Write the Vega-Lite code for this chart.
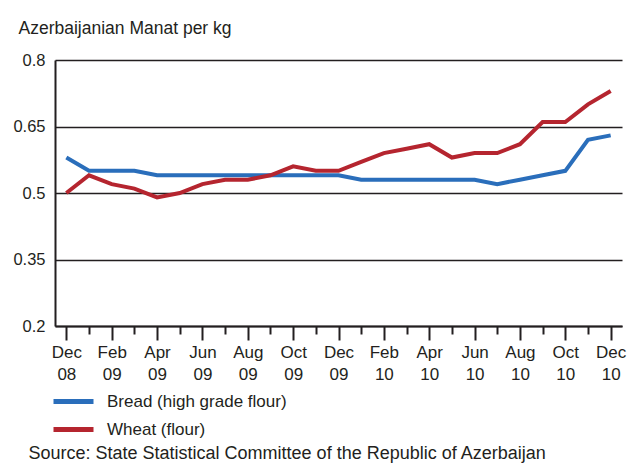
{
  "$schema": "https://vega.github.io/schema/vega-lite/v6.json",
  "width": 567,
  "height": 266,
  "autosize": {"type": "none"},
  "padding": {"left": 55, "top": 60, "right": 5, "bottom": 138},
  "background": "white",
  "data": {"values": [
    {"month":"Dec 08","series":"Bread (high grade flour)","value":0.58},
    {"month":"Jan 09","series":"Bread (high grade flour)","value":0.55},
    {"month":"Feb 09","series":"Bread (high grade flour)","value":0.55},
    {"month":"Mar 09","series":"Bread (high grade flour)","value":0.55},
    {"month":"Apr 09","series":"Bread (high grade flour)","value":0.54},
    {"month":"May 09","series":"Bread (high grade flour)","value":0.54},
    {"month":"Jun 09","series":"Bread (high grade flour)","value":0.54},
    {"month":"Jul 09","series":"Bread (high grade flour)","value":0.54},
    {"month":"Aug 09","series":"Bread (high grade flour)","value":0.54},
    {"month":"Sep 09","series":"Bread (high grade flour)","value":0.54},
    {"month":"Oct 09","series":"Bread (high grade flour)","value":0.54},
    {"month":"Nov 09","series":"Bread (high grade flour)","value":0.54},
    {"month":"Dec 09","series":"Bread (high grade flour)","value":0.54},
    {"month":"Jan 10","series":"Bread (high grade flour)","value":0.53},
    {"month":"Feb 10","series":"Bread (high grade flour)","value":0.53},
    {"month":"Mar 10","series":"Bread (high grade flour)","value":0.53},
    {"month":"Apr 10","series":"Bread (high grade flour)","value":0.53},
    {"month":"May 10","series":"Bread (high grade flour)","value":0.53},
    {"month":"Jun 10","series":"Bread (high grade flour)","value":0.53},
    {"month":"Jul 10","series":"Bread (high grade flour)","value":0.52},
    {"month":"Aug 10","series":"Bread (high grade flour)","value":0.53},
    {"month":"Sep 10","series":"Bread (high grade flour)","value":0.54},
    {"month":"Oct 10","series":"Bread (high grade flour)","value":0.55},
    {"month":"Nov 10","series":"Bread (high grade flour)","value":0.62},
    {"month":"Dec 10","series":"Bread (high grade flour)","value":0.63},
    {"month":"Dec 08","series":"Wheat (flour)","value":0.50},
    {"month":"Jan 09","series":"Wheat (flour)","value":0.54},
    {"month":"Feb 09","series":"Wheat (flour)","value":0.52},
    {"month":"Mar 09","series":"Wheat (flour)","value":0.51},
    {"month":"Apr 09","series":"Wheat (flour)","value":0.49},
    {"month":"May 09","series":"Wheat (flour)","value":0.50},
    {"month":"Jun 09","series":"Wheat (flour)","value":0.52},
    {"month":"Jul 09","series":"Wheat (flour)","value":0.53},
    {"month":"Aug 09","series":"Wheat (flour)","value":0.53},
    {"month":"Sep 09","series":"Wheat (flour)","value":0.54},
    {"month":"Oct 09","series":"Wheat (flour)","value":0.56},
    {"month":"Nov 09","series":"Wheat (flour)","value":0.55},
    {"month":"Dec 09","series":"Wheat (flour)","value":0.55},
    {"month":"Jan 10","series":"Wheat (flour)","value":0.57},
    {"month":"Feb 10","series":"Wheat (flour)","value":0.59},
    {"month":"Mar 10","series":"Wheat (flour)","value":0.60},
    {"month":"Apr 10","series":"Wheat (flour)","value":0.61},
    {"month":"May 10","series":"Wheat (flour)","value":0.58},
    {"month":"Jun 10","series":"Wheat (flour)","value":0.59},
    {"month":"Jul 10","series":"Wheat (flour)","value":0.59},
    {"month":"Aug 10","series":"Wheat (flour)","value":0.61},
    {"month":"Sep 10","series":"Wheat (flour)","value":0.66},
    {"month":"Oct 10","series":"Wheat (flour)","value":0.66},
    {"month":"Nov 10","series":"Wheat (flour)","value":0.70},
    {"month":"Dec 10","series":"Wheat (flour)","value":0.73}
  ]},
  "mark": {"type": "line", "strokeWidth": 4, "strokeJoin": "miter"},
  "encoding": {
    "x": {
      "field": "month",
      "type": "ordinal",
      "sort": null,
      "scale": {"type": "point", "padding": 0.5},
      "axis": {
        "title": "Source: State Statistical Committee of the Republic of Azerbaijan",
        "titleX": -27,
        "titleY": 132,
        "titleAlign": "left",
        "titleAnchor": "start",
        "titleBaseline": "alphabetic",
        "titleFontSize": 18,
        "titleFontWeight": "normal",
        "titleColor": "#231f20",
        "labelAngle": 0,
        "labelExpr": "indexof(['Dec','Feb','Apr','Jun','Aug','Oct'], slice(datum.value,0,3)) >= 0 ? split(datum.value, ' ') : ''",
        "labelLineHeight": 22.7,
        "labelPadding": 4,
        "labelBaseline": "top",
        "labelFontSize": 17,
        "labelColor": "#231f20",
        "domainColor": "#231f20",
        "domainWidth": 2,
        "tickColor": "#231f20",
        "tickWidth": 2,
        "tickSize": {"condition": {"test": "indexof(['Dec','Feb','Apr','Jun','Aug','Oct'], slice(datum.value,0,3)) >= 0", "value": 14}, "value": 8},
        "grid": false
      }
    },
    "y": {
      "field": "value",
      "type": "quantitative",
      "scale": {"domain": [0.2, 0.8], "nice": false, "zero": false},
      "axis": {
        "values": [0.2, 0.35, 0.5, 0.65, 0.8],
        "labelExpr": "format(datum.value, '.2~f')",
        "title": "Azerbaijanian Manat per kg",
        "titleAngle": 0,
        "titleAlign": "left",
        "titleBaseline": "alphabetic",
        "titleX": -37,
        "titleY": -27,
        "titleFontSize": 17.5,
        "titleFontWeight": "normal",
        "titleColor": "#231f20",
        "labelFontSize": 16.5,
        "labelColor": "#231f20",
        "labelPadding": 10,
        "ticks": false,
        "domainColor": "#231f20",
        "domainWidth": 2,
        "grid": true,
        "gridColor": "#231f20",
        "gridWidth": 1.5
      }
    },
    "color": {
      "field": "series",
      "type": "nominal",
      "scale": {"domain": ["Bread (high grade flour)", "Wheat (flour)"], "range": ["#2a6ebb", "#b5252f"]},
      "legend": {
        "title": null,
        "orient": "none",
        "legendX": 6,
        "legendY": 329,
        "direction": "vertical",
        "symbolType": "M-2,0H2",
        "symbolSize": 400,
        "symbolStrokeWidth": 5,
        "symbolFillColor": "transparent",
        "labelFontSize": 17,
        "labelColor": "#231f20",
        "labelOffset": 21,
        "labelLimit": 500,
        "rowPadding": 5
      }
    }
  },
  "config": {
    "view": {"stroke": null},
    "font": "Liberation Sans",
    "axis": {"labelFont": "Liberation Sans", "titleFont": "Liberation Sans"},
    "legend": {"labelFont": "Liberation Sans"}
  }
}
